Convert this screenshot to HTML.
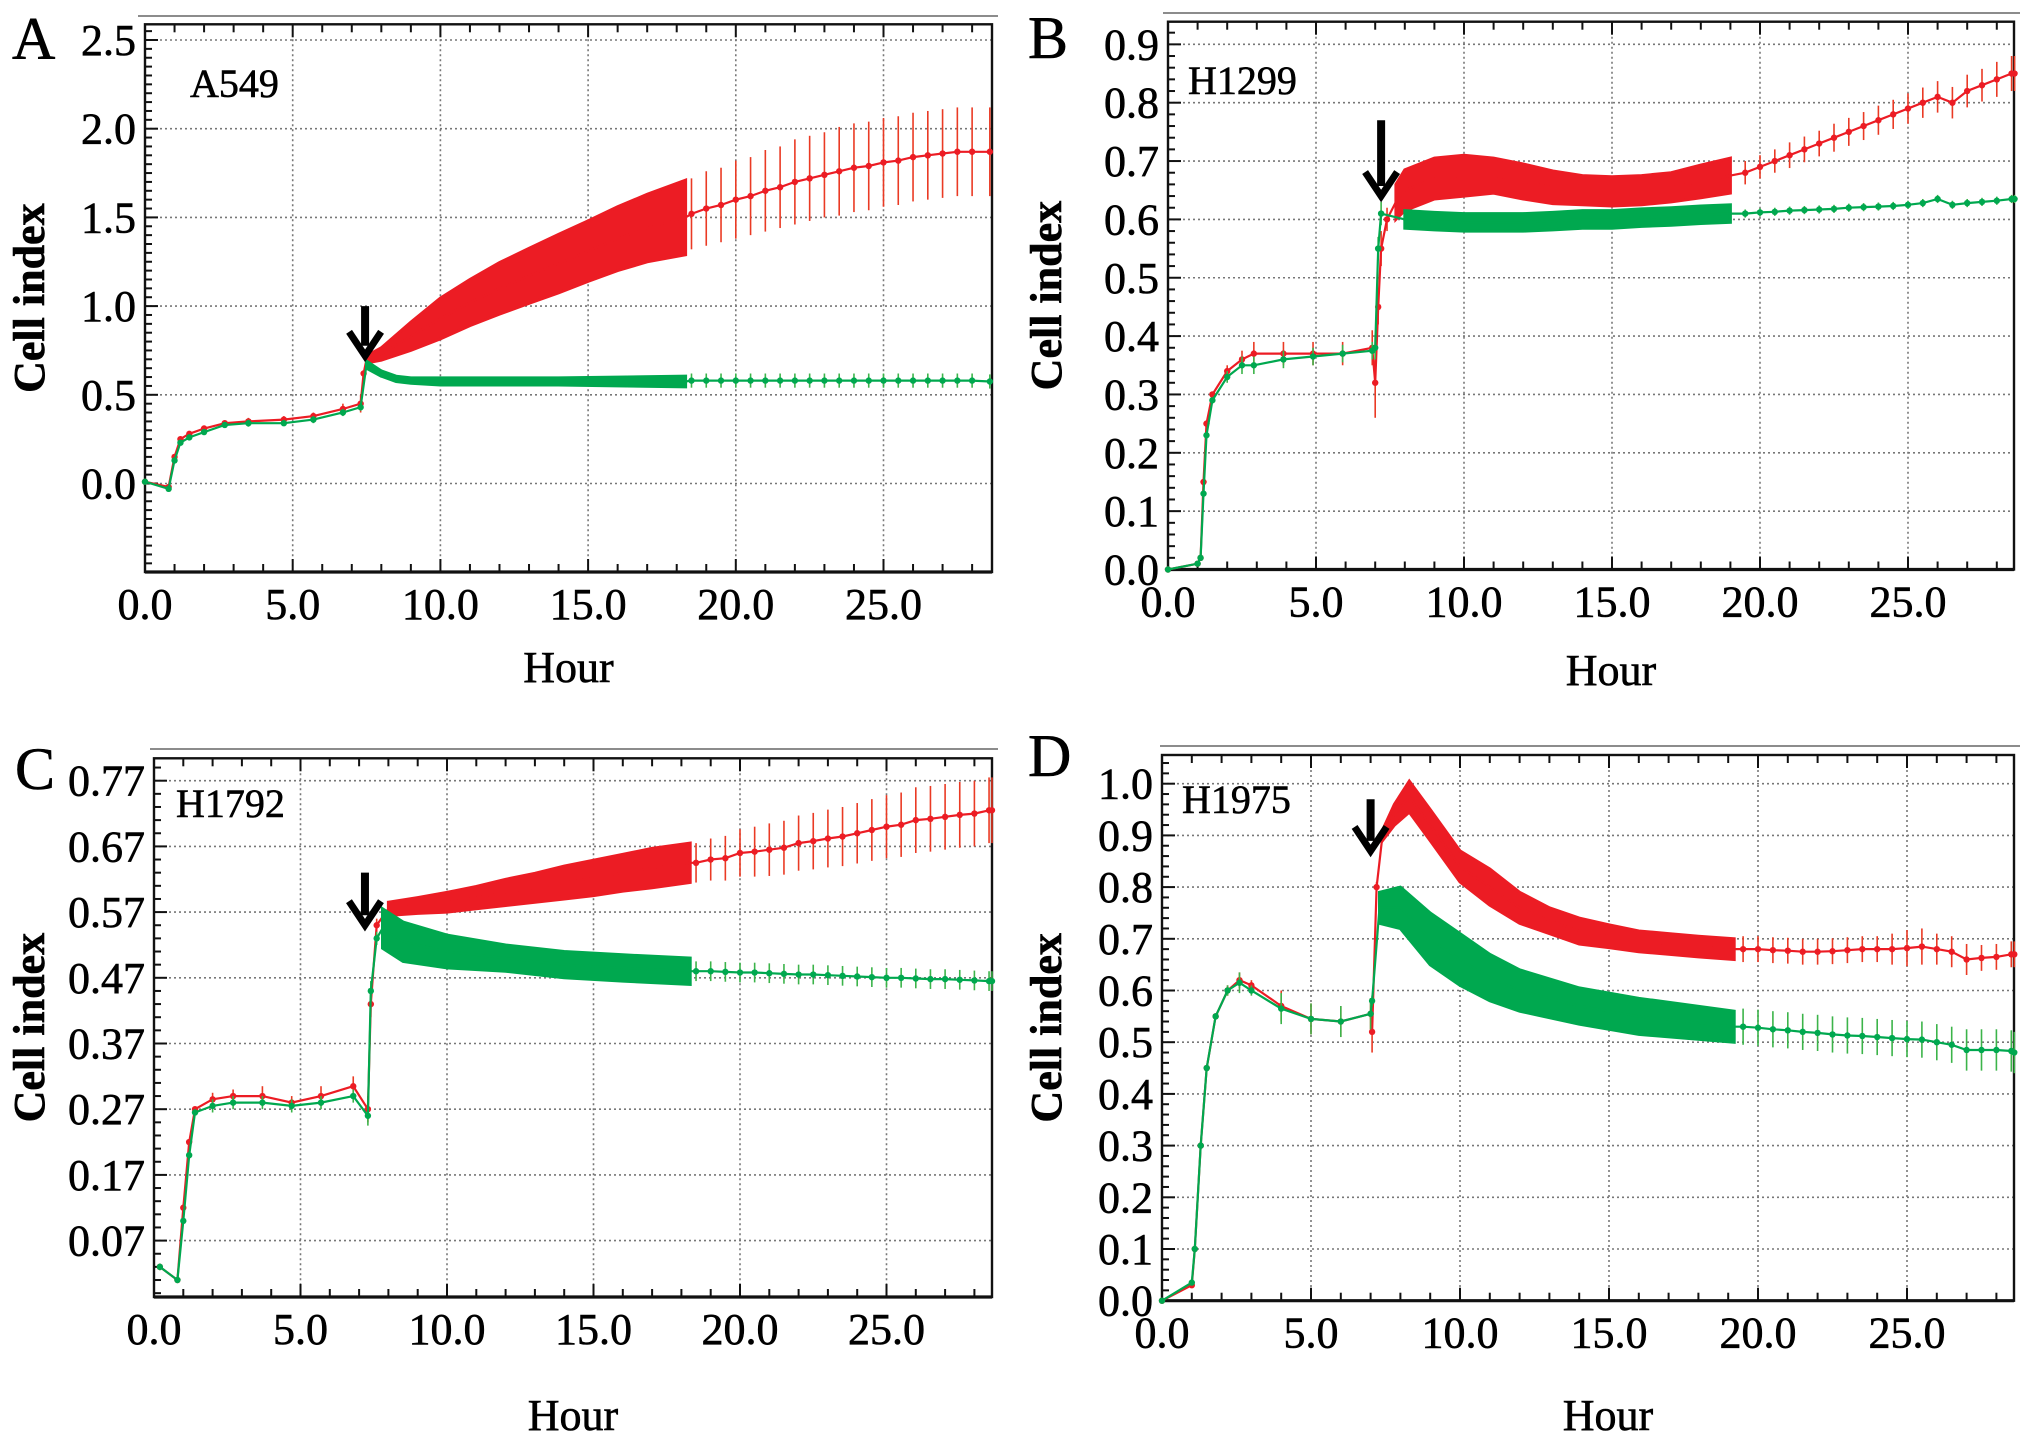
<!DOCTYPE html>
<html><head><meta charset="utf-8">
<style>
html,body{margin:0;padding:0;background:#fff;}
svg{display:block;font-family:"Liberation Serif","Times New Roman",serif;}
svg text{font-family:"Liberation Serif","Times New Roman",serif;}
</style></head>
<body>
<svg id="fig" width="2031" height="1442" viewBox="0 0 2031 1442" xmlns="http://www.w3.org/2000/svg" font-family="Liberation Serif, serif"></svg>
<script>
// ---------- data (hours, mean cell index, error) ----------
const xTickLabels = ["0.0","5.0","10.0","15.0","20.0","25.0"];
const xTickValues = [0,5,10,15,20,25];
const yTicksA = [0.0,0.5,1.0,1.5,2.0,2.5];
const yTickLabelsA = ["0.0","0.5","1.0","1.5","2.0","2.5"];
const yTicksB = [0,0.1,0.2,0.3,0.4,0.5,0.6,0.7,0.8,0.9];
const yTickLabelsB = ["0.0","0.1","0.2","0.3","0.4","0.5","0.6","0.7","0.8","0.9"];
const yTicksC = [0.07,0.17,0.27,0.37,0.47,0.57,0.67,0.77];
const yTickLabelsC = ["0.07","0.17","0.27","0.37","0.47","0.57","0.67","0.77"];
const yTicksD = [0,0.1,0.2,0.3,0.4,0.5,0.6,0.7,0.8,0.9,1.0];
const yTickLabelsD = ["0.0","0.1","0.2","0.3","0.4","0.5","0.6","0.7","0.8","0.9","1.0"];

const sparseA = [18.5,19,19.5,20,20.5,21,21.5,22,22.5,23,23.5,24,24.5,25,25.5,26,26.5,27,27.5,28,28.6];
const aRedH = [0,0.8,1,1.2,1.5,2,2.7,3.5,4.7,5.7,6.7,7.3,7.4,7.5,8,9,10,11,12,13,14,15,16,17,18.3].concat(sparseA);
const aRedV = [0.01,-0.02,0.15,0.25,0.28,0.31,0.34,0.35,0.36,0.38,0.42,0.45,0.62,0.70,0.73,0.83,0.93,1.02,1.1,1.17,1.24,1.31,1.38,1.44,1.5,
  1.52,1.55,1.57,1.6,1.62,1.65,1.67,1.7,1.72,1.74,1.76,1.78,1.79,1.81,1.82,1.84,1.85,1.86,1.87,1.87,1.87];
const aRedE = [0,0,0,0,0,0,0,0.02,0.02,0.02,0.03,0.05,0,0.02,0.035,0.08,0.115,0.13,0.145,0.155,0.165,0.17,0.18,0.19,0.21,
  0.2,0.21,0.21,0.22,0.22,0.23,0.23,0.24,0.24,0.24,0.25,0.25,0.25,0.25,0.25,0.25,0.25,0.25,0.25,0.25,0.25];
const aGreenH = [0,0.8,1,1.2,1.5,2,2.7,3.5,4.7,5.7,6.7,7.3,7.5,8,8.5,9,10,12,14,16,18.3].concat(sparseA);
const aGreenV = [0.01,-0.03,0.13,0.23,0.26,0.29,0.33,0.34,0.34,0.36,0.40,0.43,0.67,0.62,0.59,0.58,0.575,0.575,0.575,0.575,0.575,
  0.58,0.58,0.58,0.58,0.58,0.58,0.58,0.58,0.58,0.58,0.58,0.58,0.58,0.58,0.58,0.58,0.58,0.58,0.58,0.58,0.575];
const aGreenE = [0,0,0,0,0,0,0,0.02,0.01,0.02,0.02,0.02,0.02,0.015,0.015,0.015,0.02,0.02,0.02,0.025,0.03,
  0.04,0.04,0.04,0.04,0.04,0.04,0.04,0.04,0.04,0.04,0.04,0.04,0.04,0.04,0.04,0.04,0.04,0.04,0.04,0.04,0.04];

const sparseB = [19.5,20,20.5,21,21.5,22,22.5,23,23.5,24,24.5,25,25.5,26,26.5,27,27.5,28,28.5,28.6];
const bRedH = [0,1,1.1,1.2,1.3,1.5,2,2.5,2.9,3.9,4.9,5.9,6.9,7.0,7.1,7.2,7.4,7.7,8,9,10,11,12,13,14,15,16,17,18,19].concat(sparseB);
const bRedV = [0,0.01,0.02,0.15,0.25,0.3,0.34,0.36,0.37,0.37,0.37,0.37,0.38,0.32,0.45,0.55,0.6,
  0.63,0.65,0.67,0.675,0.675,0.665,0.655,0.65,0.648,0.65,0.655,0.665,0.675,
  0.68,0.69,0.7,0.71,0.72,0.73,0.74,0.75,0.76,0.77,0.78,0.79,0.8,0.81,0.8,0.82,0.83,0.84,0.85,0.85];
const bRedE = [0,0,0,0,0,0,0.01,0.015,0.02,0.02,0.02,0.02,0.03,0.06,0.03,0.03,0.02,
  0.03,0.035,0.035,0.035,0.03,0.03,0.028,0.025,0.025,0.025,0.025,0.028,0.03,
  0.02,0.02,0.02,0.022,0.022,0.022,0.024,0.024,0.024,0.025,0.025,0.026,0.026,0.027,0.027,0.028,0.028,0.03,0.03,0.03];
const bGreenH = [0,1,1.1,1.2,1.3,1.5,2,2.5,2.9,3.9,4.9,5.9,6.9,7.0,7.1,7.2,8,9,10,11,12,13,14,15,16,17,18,19].concat(sparseB);
const bGreenV = [0,0.01,0.02,0.13,0.23,0.29,0.33,0.35,0.35,0.36,0.365,0.37,0.375,0.38,0.55,
  0.61,0.6,0.597,0.595,0.595,0.595,0.597,0.6,0.6,0.603,0.605,0.608,0.61,
  0.61,0.612,0.613,0.615,0.616,0.617,0.618,0.62,0.621,0.622,0.623,0.625,0.628,0.635,0.625,0.628,0.63,0.632,0.635,0.635];
const bGreenE = [0,0,0,0,0,0,0.01,0.015,0.015,0.015,0.015,0.015,0.015,0.02,0.02,
  0.02,0.015,0.015,0.015,0.015,0.015,0.015,0.015,0.015,0.015,0.015,0.015,0.015,
  0.007,0.007,0.007,0.007,0.007,0.007,0.007,0.007,0.007,0.007,0.007,0.007,0.007,0.007,0.007,0.007,0.007,0.007,0.007,0.007];

const sparseC = [18.5,19,19.5,20,20.5,21,21.5,22,22.5,23,23.5,24,24.5,25,25.5,26,26.5,27,27.5,28,28.5,28.6];
const cRedH = [0.2,0.8,1.0,1.2,1.4,2,2.7,3.7,4.7,5.7,6.8,7.3,7.4,7.6,8,9,10,11,12,13,14,15,16,17,18.3].concat(sparseC);
const cRedV = [0.03,0.01,0.12,0.22,0.27,0.285,0.29,0.29,0.28,0.29,0.305,0.27,0.43,0.55,
  0.575,0.58,0.585,0.592,0.6,0.607,0.615,0.622,0.63,0.637,0.645,
  0.645,0.65,0.652,0.66,0.662,0.665,0.668,0.675,0.678,0.682,0.685,0.69,0.695,0.7,0.703,0.71,0.712,0.715,0.718,0.72,0.725,0.725];
const cRedE = [0.005,0,0,0,0,0.01,0.01,0.015,0.01,0.015,0.015,0.02,0.02,0.01,
  0.01,0.012,0.015,0.017,0.02,0.022,0.025,0.027,0.028,0.03,0.03,
  0.03,0.032,0.034,0.036,0.038,0.04,0.041,0.042,0.043,0.044,0.045,0.046,0.047,0.048,0.049,0.05,0.05,0.05,0.05,0.05,0.05,0.05];
const cGreenH = [0.2,0.8,1.0,1.2,1.4,2,2.7,3.7,4.7,5.7,6.8,7.3,7.4,7.6,7.8,8.5,10,12,14,16,18.3].concat(sparseC);
const cGreenV = [0.03,0.01,0.1,0.2,0.265,0.275,0.28,0.28,0.275,0.28,0.29,0.26,0.45,0.53,
  0.545,0.525,0.51,0.5,0.49,0.485,0.48,
  0.48,0.48,0.479,0.478,0.478,0.477,0.476,0.475,0.475,0.474,0.473,0.472,0.471,0.47,0.47,0.469,0.468,0.468,0.467,0.466,0.465,0.465];
const cGreenE = [0.005,0,0,0,0,0.01,0.01,0.01,0.01,0.01,0.01,0.015,0.015,0.01,
  0.03,0.03,0.025,0.02,0.02,0.02,0.02,
  0.015,0.015,0.015,0.015,0.015,0.015,0.015,0.015,0.015,0.015,0.015,0.015,0.015,0.015,0.015,0.015,0.015,0.015,0.015,0.015,0.015,0.015];

const sparseD = [19.5,20,20.5,21,21.5,22,22.5,23,23.5,24,24.5,25,25.5,26,26.5,27,27.5,28,28.5,28.6];
const dRedH = [0,1,1.1,1.3,1.5,1.8,2.2,2.6,3,4,5,6,7,7.05,7.2,7.4,7.8,8.3,9,10,11,12,13,14,15,16,17,18,19.2].concat(sparseD);
const dRedV = [0,0.03,0.1,0.3,0.45,0.55,0.6,0.62,0.61,0.57,0.545,0.54,0.555,0.52,0.8,0.9,
  0.94,0.975,0.92,0.84,0.8,0.76,0.735,0.715,0.705,0.695,0.69,0.685,0.68,
  0.68,0.68,0.678,0.677,0.675,0.675,0.676,0.678,0.68,0.68,0.68,0.682,0.685,0.68,0.675,0.66,0.663,0.665,0.67,0.67];
const dRedE = [0,0.005,0,0,0,0,0.01,0.015,0.01,0.03,0.03,0.03,0.03,0.04,0.01,0.01,
  0.02,0.03,0.03,0.03,0.035,0.03,0.025,0.025,0.022,0.02,0.02,0.02,0.02,
  0.025,0.025,0.025,0.025,0.025,0.025,0.025,0.025,0.025,0.025,0.03,0.035,0.035,0.03,0.03,0.03,0.025,0.025,0.025,0.025];
const dGreenH = [0,1,1.1,1.3,1.5,1.8,2.2,2.6,3,4,5,6,7,7.05,7.3,8,9,10,11,12,14,16,19.2].concat(sparseD);
const dGreenV = [0,0.035,0.1,0.3,0.45,0.55,0.6,0.615,0.6,0.565,0.545,0.54,0.555,0.58,
  0.76,0.76,0.7,0.66,0.625,0.6,0.57,0.55,0.53,
  0.53,0.528,0.525,0.523,0.52,0.518,0.515,0.513,0.512,0.51,0.508,0.506,0.505,0.5,0.495,0.485,0.485,0.485,0.483,0.48];
const dGreenE = [0,0.005,0,0,0,0,0.01,0.02,0.01,0.03,0.03,0.03,0.03,0.01,
  0.03,0.04,0.05,0.05,0.045,0.04,0.035,0.035,0.03,
  0.035,0.035,0.035,0.035,0.035,0.035,0.035,0.035,0.035,0.035,0.035,0.035,0.035,0.035,0.035,0.04,0.04,0.04,0.04,0.04];

// ---------- layout (styles / positions) ----------
const panels = [
 {key:"a",letter:"A",name:"A549",x0:145,pxH:29.54,yRefV:0,yRefPx:483.5,pxU:177.4,left:145,right:992,top:24.3,bottom:572,
  yt:yTicksA,ytl:yTickLabelsA,minorY:0.05,band:[7.5,18.3],arrow:[7.45,1.0,0.72],
  lx:12,ly:59,nx:190,ny:97,hourY:682,cellX:44,lineX:138,lineY:16,
  red:[aRedH,aRedV,aRedE],green:[aGreenH,aGreenV,aGreenE]},
 {key:"b",letter:"B",name:"H1299",x0:1168,pxH:29.6,yRefV:0,yRefPx:569.5,pxU:583.5,left:1168,right:2014,top:21.7,bottom:569.5,
  yt:yTicksB,ytl:yTickLabelsB,minorY:0.02,band:[7.7,19],arrow:[7.2,0.77,0.64],
  lx:1028,ly:58,nx:1188,ny:94,hourY:685,cellX:1061,lineX:1163,lineY:13,
  red:[bRedH,bRedV,bRedE],green:[bGreenH,bGreenV,bGreenE]},
 {key:"c",letter:"C",name:"H1792",x0:154,pxH:29.3,yRefV:0.77,yRefPx:780.7,pxU:657,left:154,right:992,top:758.3,bottom:1297,
  yt:yTicksC,ytl:yTickLabelsC,minorY:0.02,band:[7.8,18.3],arrow:[7.2,0.63,0.55],
  lx:15,ly:789,nx:176,ny:817,hourY:1430,cellX:44,lineX:150,lineY:749,
  red:[cRedH,cRedV,cRedE],green:[cGreenH,cGreenV,cGreenE]},
 {key:"d",letter:"D",name:"H1975",x0:1162,pxH:29.8,yRefV:0,yRefPx:1300.7,pxU:517,left:1162,right:2014,top:755,bottom:1300.7,
  yt:yTicksD,ytl:yTickLabelsD,minorY:0.02,band:[7.3,19.2],arrow:[7.0,0.97,0.87],
  lx:1028,ly:776,nx:1182,ny:813,hourY:1430,cellX:1061,lineX:1160,lineY:746,
  red:[dRedH,dRedV,dRedE],green:[dGreenH,dGreenV,dGreenE]}
];
const RED = "#ec1c24", RED_BAR = "#ea3a24", GREEN = "#00a84f", GREEN_BAR = "#3cb44a";
const FONT = "Liberation Serif, Times New Roman, serif";
const NS = "http://www.w3.org/2000/svg";
const svg = document.getElementById("fig");
function el(tag, attrs, parent){
  const e = document.createElementNS(NS, tag);
  for (const k in attrs) e.setAttribute(k, attrs[k]);
  if (tag === "text") { e.setAttribute("font-family", FONT); e.setAttribute("stroke", "#000"); e.setAttribute("stroke-width", "0.6"); }
  (parent||svg).appendChild(e);
  return e;
}

panels.forEach(p => {
  const X = h => p.x0 + h * p.pxH;
  const Y = v => p.yRefPx - (v - p.yRefV) * p.pxU;
  const g = el("g", {});
  
  

  const top = el("line", {x1:p.lineX, y1:p.lineY, x2:p.right+6, y2:p.lineY, stroke:"#666", "stroke-width":1.6}, g);
  
  

  const grid = el("g", {stroke:"#777", "stroke-width":1.6, "stroke-dasharray":"2,3"}, g);
  
  
  xTickValues.forEach(h => { if (h>0) el("line", {x1:X(h), y1:p.top, x2:X(h), y2:p.bottom}, grid); });
  p.yt.forEach(v => { const y=Y(v); if (y>p.top+2 && y<p.bottom-2) el("line", {x1:p.left, y1:y, x2:p.right, y2:y}, grid); });

  const ticks = el("g", {stroke:"#111", "stroke-width":2}, g);
  
  
  for (let h=1; X(h) < p.right-2; h++) {
    const L = (h%5===0)?13:8;
    el("line", {x1:X(h), y1:p.bottom, x2:X(h), y2:p.bottom-L}, ticks);
    el("line", {x1:X(h), y1:p.top, x2:X(h), y2:p.top+L}, ticks);
  }
  const vMin = p.yRefV - (p.bottom - p.yRefPx)/p.pxU, vMax = p.yRefV + (p.yRefPx - p.top)/p.pxU;
  const base = p.yt[0];
  for (let k=Math.ceil((vMin-base)/p.minorY-1e-6); base + k*p.minorY <= vMax; k++) {
    const v = base + k*p.minorY, y = Y(v);
    if (y < p.top+2 || y > p.bottom-2) continue;
    const isMajor = p.yt.some(t => Math.abs(t-v) < 1e-6);
    el("line", {x1:p.left, y1:y, x2:p.left+(isMajor?13:7), y2:y}, ticks);
  }

  const fr = el("rect", {x:p.left, y:p.top, width:p.right-p.left, height:p.bottom-p.top, fill:"none", stroke:"#111", "stroke-width":2.4}, g);
  
  
  const bax = el("line", {x1:p.left, y1:p.bottom, x2:p.right, y2:p.bottom, stroke:"#111", "stroke-width":3.2}, g);
  
  

  xTickValues.forEach((h,i) => {
    const t = el("text", {x:X(h), y:p.bottom+47, "font-size":44, "text-anchor":"middle", fill:"#000"}, g);
    t.textContent = xTickLabels[i];
    
    
  });
  p.yt.forEach((v,i) => {
    const t = el("text", {x:p.left-9, y:Y(v)+15, "font-size":44, "text-anchor":"end", fill:"#000"}, g);
    t.textContent = p.ytl[i];
    
    
  });

  const xt = el("text", {x:(p.left+p.right)/2+(p.key==="a"||p.key==="c"?0:20), y:p.hourY, "font-size":44, "text-anchor":"middle", fill:"#000"}, g);
  xt.textContent = "Hour";
  
  
  const cy = (p.top+p.bottom)/2;
  const yt = el("text", {x:p.cellX, y:cy, "font-size":44, "font-weight":"bold", "text-anchor":"middle", transform:`rotate(-90 ${p.cellX} ${cy})`, fill:"#000"}, g);
  yt.textContent = "Cell index";
  
  
  const lt = el("text", {x:p.lx, y:p.ly, "font-size":60, fill:"#000"}, g);
  lt.textContent = p.letter;
  
  
  const nt = el("text", {x:p.nx, y:p.ny, "font-size":40, fill:"#000"}, g);
  nt.textContent = p.name;
  
  

  [["red",p.red,RED,RED_BAR],["green",p.green,GREEN,GREEN_BAR]].forEach(([nm,s,col,barCol]) => {
    const [H,V,E] = s;
    const sg = el("g", {}, g);
    
    
    const inBand = h => h >= p.band[0]-1e-9 && h <= p.band[1]+1e-9;
    const idx = H.map((h,i)=>i).filter(i => inBand(H[i]));
    if (idx.length) {
      const up = idx.map(i => `${X(H[i]).toFixed(1)},${Y(V[i]+E[i]).toFixed(1)}`);
      const lo = idx.slice().reverse().map(i => `${X(H[i]).toFixed(1)},${Y(V[i]-E[i]).toFixed(1)}`);
      const band = el("polygon", {points: up.concat(lo).join(" "), fill:col, stroke:col, "stroke-width":3}, sg);
      
      
    }
    H.forEach((h,i) => {
      if (inBand(h) || !(E[i] > 0)) return;
      const b = el("line", {x1:X(h), y1:Y(V[i]-E[i]), x2:X(h), y2:Y(V[i]+E[i]), stroke:barCol, "stroke-width":1.6}, sg);
      
      
    });
    const pts = H.map((h,i) => `${X(h).toFixed(1)},${Y(V[i]).toFixed(1)}`).join(" ");
    const ln = el("polyline", {points:pts, fill:"none", stroke:col, "stroke-width":2.2}, sg);
    
    
    H.forEach((h,i) => {
      if (inBand(h)) return;
      const d = el("circle", {cx:X(h), cy:Y(V[i]), r:3.2, fill:col}, sg);
      
      
    });
  });

  const [ah, av0, av1] = p.arrow;
  const ax = X(ah), ay0 = Y(av0), ay1 = Y(av1);
  const ar = el("g", {}, g);
  
  
  el("line", {x1:ax, y1:ay0, x2:ax, y2:ay1-10, stroke:"#000", "stroke-width":8}, ar);
  el("polyline", {points:`${ax-16},${ay1-24} ${ax},${ay1} ${ax+16},${ay1-24}`, fill:"none", stroke:"#000", "stroke-width":7, "stroke-linejoin":"miter"}, ar);
});
</script>
</body></html>
